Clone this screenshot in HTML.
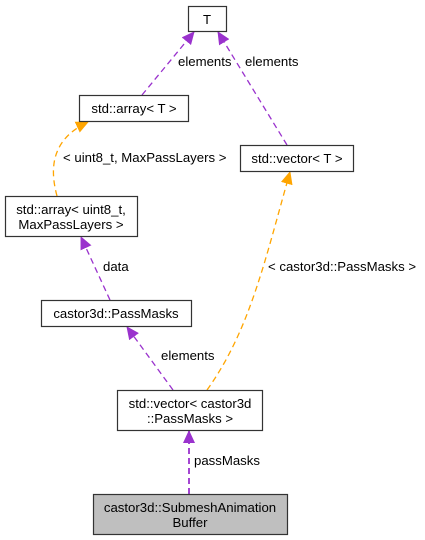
<!DOCTYPE html>
<html><head><style>body{margin:0;background:#fff}svg{display:block}text{font-family:"Liberation Sans",Arial,sans-serif;font-size:13.2px;fill:#000}</style></head><body>
<svg width="425" height="540" viewBox="0 0 425 540" xmlns="http://www.w3.org/2000/svg">
<defs>
<marker id="p" markerWidth="13" markerHeight="12" refX="12" refY="6" orient="auto" markerUnits="userSpaceOnUse"><path d="M0,0 L13,6 L0,12 z" fill="#9a32cd"/></marker>
<marker id="o" markerWidth="13" markerHeight="12" refX="12" refY="6" orient="auto" markerUnits="userSpaceOnUse"><path d="M0,0 L13,6 L0,12 z" fill="#ffa500"/></marker>
</defs>
<g fill="none" stroke-width="1.3" stroke-dasharray="6,4">
<path d="M142,95 L194,32" stroke="#9a32cd" marker-end="url(#p)"/>
<path d="M287,145 L218,32" stroke="#9a32cd" marker-end="url(#p)"/>
<path d="M57,196 C50,170 50,140 88,122" stroke="#ffa500" marker-end="url(#o)"/>
<path d="M110,300 L81,237" stroke="#9a32cd" marker-end="url(#p)"/>
<path d="M173,390 L127,327" stroke="#9a32cd" marker-end="url(#p)"/>
<path d="M207,390 C250,330 265,260 290,172" stroke="#ffa500" marker-end="url(#o)"/>
<path d="M189,494 L189,431" stroke="#9a32cd" stroke-width="1.8" marker-end="url(#p)"/>
</g>
<g stroke="#333" stroke-width="1.2" fill="#fff">
<rect x="188.5" y="6.5" width="38" height="25"/>
<rect x="79.5" y="95.5" width="109" height="26"/>
<rect x="240.5" y="145.5" width="113" height="26"/>
<rect x="5.5" y="196.5" width="132" height="40"/>
<rect x="41.5" y="300.5" width="150" height="26"/>
<rect x="117.5" y="390.5" width="145" height="40"/>
<rect x="93.5" y="494.5" width="194" height="40" fill="#bfbfbf"/>
</g>
<g text-anchor="middle">
<text x="207" y="24">T</text>
<text x="134" y="113">std::array&lt; T &gt;</text>
<text x="297" y="163">std::vector&lt; T &gt;</text>
<text x="71" y="214">std::array&lt; uint8_t,</text>
<text x="71" y="229">MaxPassLayers &gt;</text>
<text x="116" y="318">castor3d::PassMasks</text>
<text x="190" y="408">std::vector&lt; castor3d</text>
<text x="190" y="423">::PassMasks &gt;</text>
<text x="190" y="512">castor3d::SubmeshAnimation</text>
<text x="190" y="527">Buffer</text>
</g>
<text x="178" y="66">elements</text>
<text x="245" y="66">elements</text>
<text x="63" y="162">&lt; uint8_t, MaxPassLayers &gt;</text>
<text x="103" y="271">data</text>
<text x="268" y="271">&lt; castor3d::PassMasks &gt;</text>
<text x="161" y="360">elements</text>
<text x="194" y="465">passMasks</text>
</svg>
</body></html>
